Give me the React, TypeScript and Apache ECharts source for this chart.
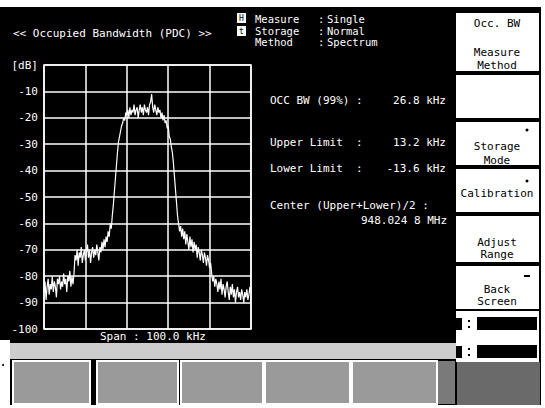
import React, { useEffect, useRef } from "react";
import * as echarts from "echarts";

// ---- data ----
const SPAN_KHZ = 100;
const SWEEP_START_KHZ = -50; // offset from centre
const SWEEP_STEP_KHZ = 0.5;
const LEVELS_DB = [
  -86, -82, -89, -84, -81, -87, -83, -85, -80, -86,
  -82, -84, -88, -81, -83, -80, -85, -82, -84, -79,
  -83, -81, -86, -80, -82, -78, -84, -80, -83, -79,
  -72, -74, -70, -76, -71, -73, -69, -75, -72, -70,
  -74, -71, -68, -73, -70, -75, -71, -69, -73, -70,
  -72, -68, -71, -74, -69, -71, -67, -70, -66, -69,
  -65, -67, -63, -65, -60, -62, -57, -53, -48, -43,
  -38, -33, -29, -27, -25, -23, -22, -20, -21, -18,
  -19, -17, -20, -16, -19, -17, -18, -15, -19, -17,
  -16, -20, -17, -15, -18, -16, -19, -15, -17, -18,
  -16, -19, -15, -14, -11, -16, -18, -15, -17, -19,
  -16, -18, -17, -20, -18, -21, -19, -22, -21, -24,
  -23, -27, -28, -31, -33, -37, -42, -47, -52, -57,
  -60, -63, -61, -65, -62, -66, -63, -68, -64, -67,
  -70, -65, -69, -66, -71, -67, -70, -68, -73, -69,
  -71, -74, -70, -72, -75, -71, -73, -76, -72, -74,
  -77, -75, -79, -82, -80, -84, -81, -83, -86, -82,
  -85, -81, -87, -83, -85, -88, -84, -82, -86, -89,
  -84, -87, -83, -88, -85, -90, -86, -84, -88, -86,
  -89, -85, -87, -90, -86, -88, -85, -89, -87, -84,
  -85,
];

const TITLE = "<< Occupied Bandwidth (PDC) >>";
const STATUS_LABELS = ["Measure", "Storage", "Method"];
const STATUS_VALUES = ["Single", "Normal", "Spectrum"];
const RESULT_LABELS = ["OCC BW (99%)", "Upper Limit", "Lower Limit"];
const RESULT_VALUES = ["26.8 kHz", "13.2 kHz", "-13.6 kHz"];
const CENTER_LABEL = "Center (Upper+Lower)/2 :";
const CENTER_VALUE = "948.024 8 MHz";
const SPAN_LABEL = "Span : 100.0 kHz";
const Y_UNIT = "[dB]";

const MONO = "'DejaVu Sans Mono', monospace";

function txt(x: number, y: number, text: string, fill = "#fff", size = 11, align = "left", lh?: number): any {
  const style: any = {
    text,
    fill,
    fontFamily: MONO,
    fontSize: size,
    align,
    verticalAlign: "middle",
    textAlign: align,
    textVerticalAlign: "middle",
  };
  if (lh) style.lineHeight = lh;
  return { type: "text", x, y, z: 10, style };
}

function rect(x: number, y: number, w: number, h: number, fill: string, stroke?: string, lw = 0): any {
  return {
    type: "rect",
    z: 1,
    shape: { x, y, width: w, height: h },
    style: stroke ? { fill, stroke, lineWidth: lw } : { fill },
  };
}

export default function App() {
  const ref = useRef<HTMLDivElement>(null);

  useEffect(() => {
    if (!ref.current) return;
    const chart = echarts.init(ref.current, undefined, { renderer: "svg" });

    const trace = LEVELS_DB.map((v, i) => [SWEEP_START_KHZ + i * SWEEP_STEP_KHZ + SPAN_KHZ / 2, v]);

    const graphic: any[] = [];
    // white page edges
    graphic.push(rect(0, 0, 545, 7, "#fff"));
    graphic.push(rect(541, 0, 4, 408, "#fff"));
    graphic.push(rect(0, 405, 545, 3, "#fff"));
    graphic.push(rect(0, 340, 10, 68, "#fff"));
    graphic.push({ type: "circle", z: 2, shape: { cx: 3, cy: 365, r: 1 }, style: { fill: "#000" } });

    // header
    graphic.push(txt(13, 33, TITLE));
    graphic.push(rect(237, 13, 9, 10, "#fff"));
    graphic.push(rect(237, 26, 9, 10, "#fff"));
    graphic.push(txt(241.5, 18.5, "H", "#000", 8, "center", 8));
    graphic.push(txt(241.5, 31.5, "t", "#000", 8, "center", 8));
    const statusY = [19, 31, 42];
    STATUS_LABELS.forEach((l, i) => {
      graphic.push(txt(255, statusY[i], l, "#fff", 10.5, "left", 10));
      graphic.push(txt(318, statusY[i], ":", "#fff", 10.5, "left", 10));
      graphic.push(txt(327, statusY[i], STATUS_VALUES[i], "#fff", 10.5, "left", 10));
    });

    // results
    const resY = [100, 142, 168];
    RESULT_LABELS.forEach((l, i) => {
      graphic.push(txt(270, resY[i], l));
      graphic.push(txt(356, resY[i], ":"));
      graphic.push(txt(446, resY[i], RESULT_VALUES[i], "#fff", 11, "right"));
    });
    graphic.push(txt(270, 205, CENTER_LABEL));
    graphic.push(txt(447, 220, CENTER_VALUE, "#fff", 11, "right"));

    // span
    graphic.push(txt(100, 336, SPAN_LABEL));

    // status bar
    graphic.push(rect(10, 343, 446, 16, "#cdcdcd"));

    // bottom softkeys
    const bottomKeys = [
      [13, 77],
      [97, 81],
      [181, 82],
      [265, 85],
      [352, 85],
    ];
    bottomKeys.forEach(([x, w]) => {
      graphic.push(rect(x, 361, w, 43, "#9a9a9a", "#fff", 2));
    });
    graphic.push(rect(438, 361, 17, 43, "#7a7a7a"));

    // right softkeys
    const keys: [number, number, string[], number[]][] = [
      [13, 58, ["Occ. BW", "Measure", "Method"], [23, 52, 65]],
      [75, 43, [], []],
      [122, 43, ["Storage", "Mode"], [146, 160]],
      [169, 43, ["Calibration"], [193]],
      [216, 46, ["Adjust", "Range"], [242, 254]],
      [266, 43, ["Back", "Screen"], [289, 301]],
    ];
    keys.forEach(([y, h, labels, ys]) => {
      graphic.push(rect(456, y, 83, h, "#fff"));
      labels.forEach((l, i) => graphic.push(txt(497, ys[i], l, "#000", 11, "center")));
    });
    graphic.push({ type: "circle", z: 2, shape: { cx: 527, cy: 130, r: 1.5 }, style: { fill: "#000" } });
    graphic.push({ type: "circle", z: 2, shape: { cx: 527, cy: 181, r: 1.5 }, style: { fill: "#000" } });
    graphic.push(rect(524, 275, 6, 2, "#000"));

    // indicator panel
    graphic.push(rect(456, 311, 83, 51, "#fff"));
    graphic.push(rect(477, 317, 60, 13, "#000"));
    graphic.push(rect(477, 345, 60, 13, "#000"));
    graphic.push(rect(456, 318, 6, 12, "#000"));
    graphic.push(rect(456, 346, 6, 12, "#000"));
    [320, 326, 348, 354].forEach((y) => graphic.push(rect(468, y, 2, 2, "#000")));
    graphic.push(rect(457, 362, 83, 43, "#6a6a6a"));

    chart.setOption({
      animation: false,
      backgroundColor: "#000",
      grid: {
        left: 44,
        top: 65,
        width: 207,
        height: 264,
        show: true,
        borderColor: "#fff",
        borderWidth: 1.5,
        backgroundColor: "transparent",
      },
      xAxis: {
        type: "value",
        min: 0,
        max: SPAN_KHZ,
        interval: 20,
        axisLabel: { show: false },
        axisTick: { show: false },
        axisLine: { show: false },
        splitLine: { show: true, lineStyle: { color: "#fff", width: 1.5 } },
      },
      yAxis: {
        type: "value",
        min: -100,
        max: 0,
        interval: 10,
        axisTick: { show: false },
        axisLine: { show: false },
        splitLine: { show: true, lineStyle: { color: "#fff", width: 1.5 } },
        axisLabel: {
          color: "#fff",
          fontFamily: MONO,
          fontSize: 11,
          margin: 6,
          formatter: (v: number) => (v === 0 ? Y_UNIT : String(v)),
        },
      },
      series: [
        {
          type: "line",
          data: trace,
          showSymbol: false,
          symbol: "none",
          lineStyle: { color: "#fff", width: 1.2 },
          z: 5,
        },
      ],
      graphic: { elements: graphic },
    });

    return () => chart.dispose();
  }, []);

  return (
    <div
      ref={ref}
      style={{ position: "fixed", left: 0, top: 0, width: 545, height: 408 }}
    />
  );
}
